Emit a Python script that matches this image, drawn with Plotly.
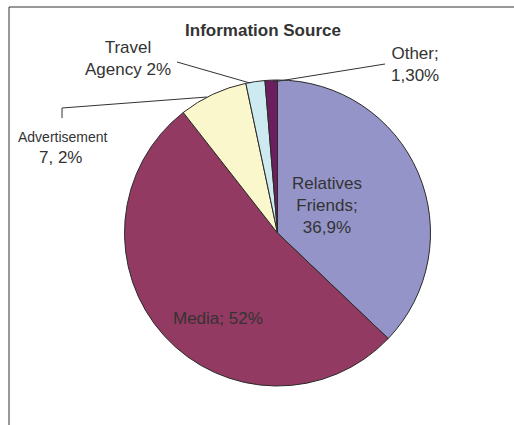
import plotly.graph_objects as go

# Shares of respondents by information source (percent)
categories = ["Relatives Friends", "Media", "Advertisement", "Travel Agency", "Other"]
shares = [36.9, 52.0, 7.2, 2.0, 1.3]
label_texts = ["Relatives<br>Friends;<br>36,9%", "Media; 52%", "7, 2%", "Travel<br>Agency 2%", "Other;<br>1,30%"]

slice_colors = ["#9494C8", "#933A62", "#FBF7CC", "#CDEAF0", "#6C1F5F"]

W, H = 514, 425


def px(x, y):
    """Pixel position -> paper coordinates."""
    return x / W, 1 - y / H


cx, cy, r = 277.5, 233, 153
x0, _ = px(cx - r, 0)
x1, _ = px(cx + r, 0)
_, y0 = px(0, cy + r)
_, y1 = px(0, cy - r)

fig = go.Figure(
    go.Pie(
        labels=categories,
        values=shares,
        sort=False,
        direction="clockwise",
        rotation=0,
        textinfo="none",
        hoverinfo="label+value",
        marker=dict(colors=slice_colors, line=dict(color="#2a2a2a", width=1)),
        domain=dict(x=[x0, x1], y=[y0, y1]),
        showlegend=False,
    )
)

font = dict(family="Liberation Sans, Arial, sans-serif", size=17, color="#333333")

label_pos = {
    "Relatives Friends": (327, 205),
    "Media": (218, 318),
    "Advertisement": (60, 157),
    "Travel Agency": (128, 59),
    "Other": (415, 64),
}

annotations = []
for cat, txt in zip(categories, label_texts):
    ax, ay = px(*label_pos[cat])
    annotations.append(dict(x=ax, y=ay, xref="paper", yref="paper", text=txt,
                            showarrow=False, xanchor="center", yanchor="middle",
                            align="center", font=font))

# smaller category name above the advertisement share
ax, ay = px(63, 137)
annotations.append(dict(x=ax, y=ay, xref="paper", yref="paper", text="Advertisement",
                        showarrow=False, xanchor="center", yanchor="middle",
                        font=dict(family=font["family"], size=14, color="#333333")))

line_style = dict(color="#333333", width=1)
shapes = []


def seg(p, q):
    a = px(*p)
    b = px(*q)
    shapes.append(dict(type="line", xref="paper", yref="paper",
                       x0=a[0], y0=a[1], x1=b[0], y1=b[1], line=line_style))


# leader lines for the small slices
seg((273, 82), (385, 64))
seg((250, 83), (177, 62))
seg((207, 97), (62, 108))
seg((62, 108), (62, 118))

# chart frame (top and left edges)
seg((9, 7), (514, 7))
seg((9, 7), (9, 425))

fig.update_layout(
    width=W,
    height=H,
    margin=dict(l=0, r=0, t=0, b=0),
    paper_bgcolor="white",
    plot_bgcolor="white",
    title=dict(text="<b>Information Source</b>", x=263 / W, y=1 - 30 / H,
               xanchor="center", yanchor="middle",
               font=dict(family=font["family"], size=17, color="#333333")),
    annotations=annotations,
    shapes=shapes,
)

fig.write_html("out.html")
